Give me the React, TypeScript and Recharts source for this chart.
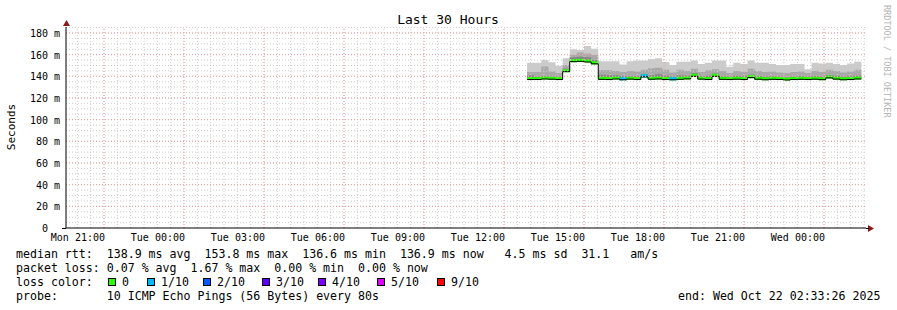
import { ComposedChart, Area, Line, XAxis, YAxis, ReferenceLine } from "recharts"

const MONO = "'DejaVu Sans Mono', monospace"

// time axis in hours since Mon 00:00
const startHour = 19.575
const endHour = 49.575
const firstStep = 36.8667
const stepHours = 16 / 60

const tickHours = [21, 24, 27, 30, 33, 36, 39, 42, 45, 48]
const tickLabels = [
  "Mon 21:00", "Tue 00:00", "Tue 03:00", "Tue 06:00", "Tue 09:00",
  "Tue 12:00", "Tue 15:00", "Tue 18:00", "Tue 21:00", "Wed 00:00",
]
const yTicks = [0, 20, 40, 60, 80, 100, 120, 140, 160, 180]

// ms, one value per 16 min step
const median = [
  137.0, 137.0, 137.5, 137.3, 137.0, 144.3, 153.5, 153.8, 153.2, 151.5,
  137.2, 137.0, 137.5, 136.8, 137.4, 137.0, 139.5, 137.3, 137.5, 137.0,
  136.8, 137.2, 137.6, 140.0, 137.4, 137.0, 140.0, 137.2, 137.0, 137.3,
  137.0, 138.8, 137.3, 136.8, 137.2, 137.0, 136.6, 137.0, 137.2, 137.0,
  137.3, 136.9, 138.5, 137.4, 136.8, 137.0, 137.5,
]
const darkTop = [
  141, 139.5, 140, 139.5, 139.5, 147, 157.5, 158, 157.5, 155,
  141.5, 141, 141, 140, 140, 140, 142, 141, 142, 140.5,
  139.5, 141, 140.5, 143, 140, 140.5, 142.5, 140, 139.5, 140.5,
  140, 141.5, 140, 139.5, 140, 139.5, 139, 139.5, 140, 139.5,
  140, 139.5, 141, 140.5, 139.5, 140, 140.5,
]
const midTop = [
  144, 144, 149, 144.5, 143, 150.5, 159.7, 162, 161, 159.7,
  145.8, 145.8, 145, 144, 145, 144.5, 146, 147.5, 148, 146,
  143.5, 146, 145, 147, 144, 145.5, 146.5, 145, 143, 145,
  144, 147, 145, 144, 144.5, 143.5, 143, 144, 144.5, 143,
  145, 144, 146, 145, 143.5, 144.5, 146,
]
const maxRtt = [
  152.6, 152.6, 155, 153, 149.5, 156.6, 165, 164.3, 168, 165.5,
  154, 154, 154, 151, 154, 154.5, 154.5, 156, 156.6, 153.2,
  150.5, 153.5, 153.5, 154.5, 151.4, 152.6, 154.5, 154.5, 148.9, 152.6,
  151.4, 154.5, 152.6, 152.6, 151.4, 150.5, 150.5, 151.4, 151.4, 146.5,
  152.6, 151.8, 152.6, 151.4, 150.5, 151.8, 153.5,
]
// index into lossColors
const lossIdx = [
  0, 0, 0, 0, 0, 0, 0, 0, 0, 0,
  0, 0, 0, 1, 0, 0, 1, 0, 0, 0,
  1, 0, 0, 0, 0, 0, 0, 0, 0, 0,
  0, 0, 0, 0, 0, 0, 0, 0, 0, 0,
  0, 0, 0, 0, 0, 0, 0,
]

const lossColors = ["#26ff00", "#00b8ff", "#0059ff", "#5e00ff", "#7e00ff", "#dd00ff", "#ff0000"]
const lossLabels = ["0", "1/10", "2/10", "3/10", "4/10", "5/10", "9/10"]
const lossBoxX = [108, 147, 203, 262, 318, 377, 437]

const band = (k: number) => [median[k] - 0.5, median[k] + 2.3]

const rows: any[] = []
for (let i = 0; i <= median.length; i++) {
  const k = Math.min(i, median.length - 1)
  const row: any = {
    t: firstStep + i * stepHours,
    median: median[k],
    light: [median[k], maxRtt[k]],
    mid: [median[k], midTop[k]],
    dark: [median[k], darkTop[k]],
    loss0: band(k),
  }
  for (let c = 1; c < lossColors.length; c++) {
    const cur = i < median.length && lossIdx[i] === c
    const prev = i > 0 && lossIdx[i - 1] === c
    row["loss" + c] = cur ? band(i) : prev ? band(i - 1) : null
  }
  rows.push(row)
}

const minorX: number[] = []
for (let h = 20; h < endHour; h += 0.5) minorX.push(h)
const minorY: number[] = []
for (let v = 5; v <= 185; v += 5) minorY.push(v)

const XTick = ({ x, y, payload }: any) => (
  <text x={x + 1} y={y} dy={9} textAnchor="end" fontFamily={MONO} fontSize={10} fill="#000">
    {tickLabels[tickHours.indexOf(payload.value)]}
  </text>
)

const YTick = ({ x, y, payload }: any) => (
  <text
    x={payload.value === 0 ? x - 12 : x}
    y={y}
    dy={4}
    textAnchor="end"
    fontFamily={MONO}
    fontSize={10}
    fill="#000"
  >
    {payload.value === 0 ? "0" : `${payload.value} m`}
  </text>
)

const txt = { fontFamily: MONO, fontSize: 11.6, fill: "#000", style: { whiteSpace: "pre" as const } }

export default function App() {
  return (
    <div style={{ position: "absolute", left: 0, top: 0, width: 897, height: 310, background: "#fff" }}>
      <ComposedChart width={897} height={310} data={rows} margin={{ top: 27, right: 31, bottom: 62, left: 0 }}>
        <XAxis
          dataKey="t"
          type="number"
          domain={[startHour, endHour]}
          ticks={tickHours}
          interval={0}
          allowDataOverflow
          height={20}
          tickSize={0}
          tickMargin={4}
          tickLine={false}
          axisLine={{ stroke: "#000" }}
          tick={<XTick />}
        />
        <YAxis
          type="number"
          domain={[0, 185.5]}
          ticks={yTicks}
          interval={0}
          allowDataOverflow
          width={66}
          tickSize={0}
          tickMargin={6}
          tickLine={false}
          axisLine={{ stroke: "#000" }}
          tick={<YTick />}
        />
        <Area type="stepAfter" dataKey="light" stroke="none" fill="#cbcbcb" fillOpacity={1} isAnimationActive={false} />
        <Area type="stepAfter" dataKey="mid" stroke="none" fill="#a9a9a9" fillOpacity={1} isAnimationActive={false} />
        <Area type="stepAfter" dataKey="dark" stroke="none" fill="#858585" fillOpacity={1} isAnimationActive={false} />
        <Line type="stepAfter" dataKey="median" stroke="#000" strokeWidth={1} dot={false} isAnimationActive={false} />
        {lossColors.map((c, i) => (
          <Area
            key={c}
            type="stepAfter"
            dataKey={"loss" + i}
            stroke="none"
            fill={c}
            fillOpacity={1}
            connectNulls={false}
            isAnimationActive={false}
          />
        ))}
        {minorX.map((h) => (
          <ReferenceLine key={"mx" + h} x={h} stroke="#cdcdcd" strokeDasharray="1 2" />
        ))}
        {minorY.map((v) => (
          <ReferenceLine key={"my" + v} y={v} stroke="#cdcdcd" strokeDasharray="1 2" />
        ))}
        {tickHours.map((h) => (
          <ReferenceLine key={"Mx" + h} x={h} stroke="#f0a0a0" strokeDasharray="1 2" />
        ))}
        {yTicks.filter((v) => v > 0).map((v) => (
          <ReferenceLine key={"My" + v} y={v} stroke="#f0a0a0" strokeDasharray="1 2" />
        ))}
      </ComposedChart>
      <svg width={897} height={310} style={{ position: "absolute", left: 0, top: 0, pointerEvents: "none" }}>
        <text x={448} y={24} textAnchor="middle" fontFamily={MONO} fontSize={13} fill="#000">
          Last 30 Hours
        </text>
        <text x={15} y={127} textAnchor="middle" transform="rotate(-90 15 127)" fontFamily={MONO} fontSize={11} fill="#000">
          Seconds
        </text>
        <text x={884} y={5} transform="rotate(90 884 5)" fontFamily={MONO} fontSize={8.5} fill="#b4b4b4">
          RRDTOOL / TOBI OETIKER
        </text>
        <polygon points="66.5,20 63,26 70,26" fill="#8b1a1a" />
        <polygon points="874,228.5 868,225 868,232" fill="#8b1a1a" />
        <line x1={866} y1={228.5} x2={869} y2={228.5} stroke="#000" />
        <line x1={62} y1={228.5} x2={66} y2={228.5} stroke="#000" />
        <text x={16} y={258} {...txt}>
          median rtt:  138.9 ms avg  153.8 ms max  136.6 ms min  136.9 ms now   4.5 ms sd  31.1   am/s
        </text>
        <text x={16} y={272} {...txt}>
          packet loss: 0.07 % avg  1.67 % max  0.00 % min  0.00 % now
        </text>
        <text x={16} y={286} {...txt}>
          loss color:
        </text>
        {lossColors.map((c, i) => (
          <g key={c}>
            <rect x={lossBoxX[i] + 0.5} y={278.5} width={7} height={7} fill={c} stroke="#000" />
            <text x={lossBoxX[i] + 14} y={286} {...txt}>
              {lossLabels[i]}
            </text>
          </g>
        ))}
        <text x={16} y={300} {...txt}>
          probe:       10 ICMP Echo Pings (56 Bytes) every 80s
        </text>
        <text x={678} y={300} {...txt}>
          end: Wed Oct 22 02:33:26 2025
        </text>
      </svg>
    </div>
  )
}
